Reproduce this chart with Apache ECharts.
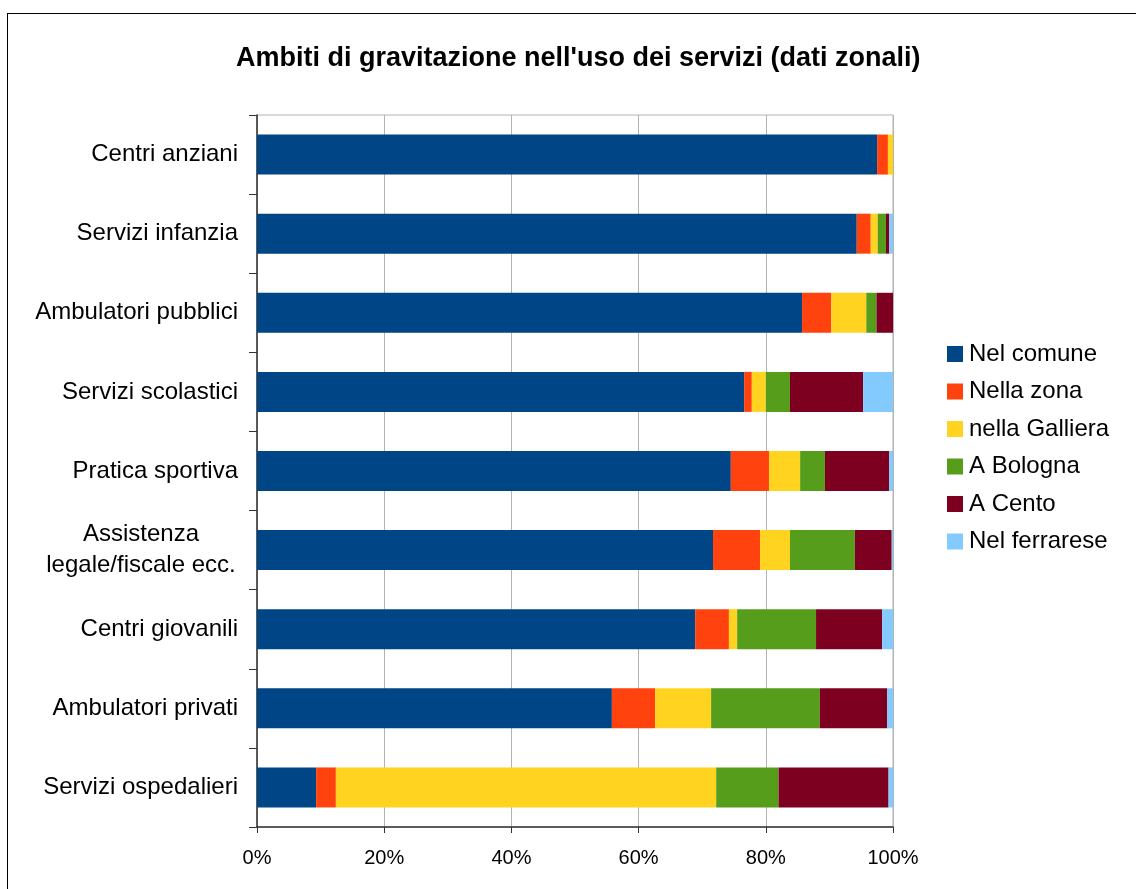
<!DOCTYPE html>
<html>
<head>
<meta charset="utf-8">
<script src="https://cdn.jsdelivr.net/npm/echarts@6/dist/echarts.min.js"></script>
<style>
html,body{margin:0;padding:0;background:#fff;}
#frame{position:absolute;left:7px;top:13px;width:1300px;height:1000px;border:1.5px solid #000;box-sizing:border-box;}
#chart{position:absolute;left:0;top:0;width:1136px;height:889px;}
</style>
</head>
<body>
<div id="frame"></div>
<div id="chart"></div>
<script>
const categories = ['Centri anziani','Servizi infanzia','Ambulatori pubblici','Servizi scolastici','Pratica sportiva','Assistenza\nlegale/fiscale ecc.','Centri giovanili','Ambulatori privati','Servizi ospedalieri'];
const seriesNames = ['Nel comune','Nella zona','nella Galliera','A Bologna','A Cento','Nel ferrarese'];
const nelComune    = [97.5, 94.3, 85.7, 76.6, 74.5, 71.7, 68.9, 55.8, 9.3];
const nellaZona    = [1.7, 2.2, 4.6, 1.2, 6.0, 7.4, 5.3, 6.8, 3.1];
const nellaGalliera= [0.8, 1.1, 5.5, 2.2, 4.9, 4.7, 1.3, 8.8, 59.8];
const aBologna     = [0, 1.3, 1.6, 3.8, 3.9, 10.2, 12.4, 17.1, 9.8];
const aCento       = [0, 0.5, 2.6, 11.5, 10.1, 5.8, 10.4, 10.6, 17.3];
const nelFerrarese = [0, 0.6, 0, 4.7, 0.6, 0.2, 1.7, 0.9, 0.7];
const xTicks = [0, 20, 40, 60, 80, 100];
const colors = ['#004586','#ff420e','#ffd320','#579d1c','#7e0021','#83caff'];
const values = [nelComune, nellaZona, nellaGalliera, aBologna, aCento, nelFerrarese];

const chart = echarts.init(document.getElementById('chart'), null, {renderer:'canvas'});
const font = 'Liberation Sans, Arial, sans-serif';
const lblSize = 24;
chart.setOption({
  animation:false,
  color: colors,
  title:{text:"Ambiti di gravitazione nell'uso dei servizi (dati zonali)", left:231, top:40,
    textStyle:{fontFamily:font, fontSize:27, fontWeight:'bold', color:'#000'}},
  legend:{orient:'vertical', left:942, top:337, itemWidth:16, itemHeight:16, itemGap:13.5,
    icon:'rect', data:seriesNames,
    textStyle:{fontFamily:font, fontSize:lblSize, color:'#000', padding:[0,0,0,1]}},
  grid:{left:257, right:243, top:115, bottom:62, show:true, borderColor:'#b3b3b3', borderWidth:1},
  xAxis:{type:'value', min:xTicks[0], max:xTicks[xTicks.length-1], interval:20,
    axisLine:{show:true, lineStyle:{color:'#333', width:1.5}},
    axisTick:{show:true, length:6, lineStyle:{color:'#333'}},
    splitLine:{show:true, lineStyle:{color:'#b3b3b3', width:1}},
    axisLabel:{formatter:'{value}%', fontFamily:font, fontSize:20, color:'#000', margin:21}},
  yAxis:{type:'category', inverse:true, data:categories,
    axisLine:{show:true, lineStyle:{color:'#333', width:1.5}},
    axisTick:{show:true, length:8, lineStyle:{color:'#333'}},
    axisLabel:{fontFamily:font, fontSize:lblSize, color:'#000', margin:19,
      formatter:function(v){ if(v.indexOf('\n')>=0){ return v.split('\n').map(s=>'{c|'+s+'}').join('\n'); } return v; },
      rich:{c:{width:194, align:'center', fontFamily:font, fontSize:lblSize, color:'#000', lineHeight:31}}}},
  series: seriesNames.map((n,i)=>({name:n, type:'bar', stack:'tot', barWidth:40, data:values[i]}))
});
</script>
</body>
</html>
